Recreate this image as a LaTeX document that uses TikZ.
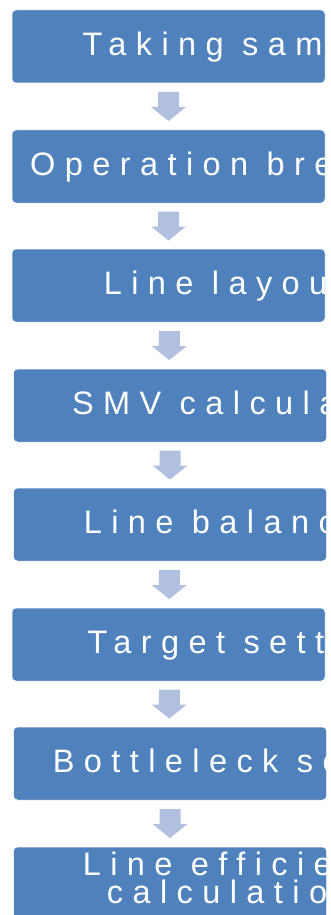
\documentclass[tikz,border=0pt]{standalone}
\usepackage{fontspec}
\setmainfont{Liberation Sans}
\usetikzlibrary{calc}
\definecolor{boxblue}{HTML}{4F81BD}
\definecolor{arrowblue}{HTML}{B0C0DE}

\begin{document}
\begin{tikzpicture}
  [x=1pt,y=-1pt,
   stepbox/.style={fill=boxblue,draw=white,line width=0.5pt,rounded corners=4pt,
     minimum width=313pt,minimum height=73pt,inner sep=0pt},
   steptext/.style={text=white,inner sep=0pt,anchor=base west,
     font=\fontsize{32.5}{28}\selectfont\addfontfeature{LetterSpace=29}}]
  \useasboundingbox (0,0) rectangle (330,915);
  \clip (0,0) rectangle (330,915);

  % process steps, text cut at the right edge of each box
  \foreach \i/\bx/\by/\tx/\txt in {1/168.5/46.5/82.5/Taking sam,
      2/168.5/166.5/30/Operation bre, 3/168.5/285.5/103.6/Line layou,
      4/170/405.5/71.8/SMV calcula, 5/170/524.5/83.6/Line balanc,
      6/168.5/644.5/87.5/Target sett, 7/170/763.5/52.6/Bottleleck so}
  {
    \node (b\i)[stepbox] at (\bx,\by) {};
    \begin{scope}
      \clip[rounded corners=4pt] (b\i.south west) rectangle (b\i.north east);
      \node (t\i)[steptext] at (\tx,\by+9) {\txt};
    \end{scope}
  }

  \node (b8)[stepbox] at (170,883.5) {};
  \begin{scope}
    \clip[rounded corners=4pt] (b8.south west) rectangle (b8.north east);
    \node (t8)[steptext,align=left] at (82.6,903)
      {Line efficie\\\hspace*{24.1pt}calculatio};
  \end{scope}

  % down arrows
  \foreach \i/\j in {1/2,2/3,3/4,4/5,5/6,6/7,7/8}
  {
    \coordinate (m\i) at ($(b\i.south)!0.5!(b\j.north)$);
    \fill[arrowblue] ($(m\i)+(-10.5,-14.5)$) -- ++(21,0) -- ++(0,15) -- ++(7,0)
      -- ($(m\i)+(0,14.5)$) -- ($(m\i)+(-17.5,0.5)$) -- ++(7,0) -- cycle;
  }
\end{tikzpicture}
\end{document}
